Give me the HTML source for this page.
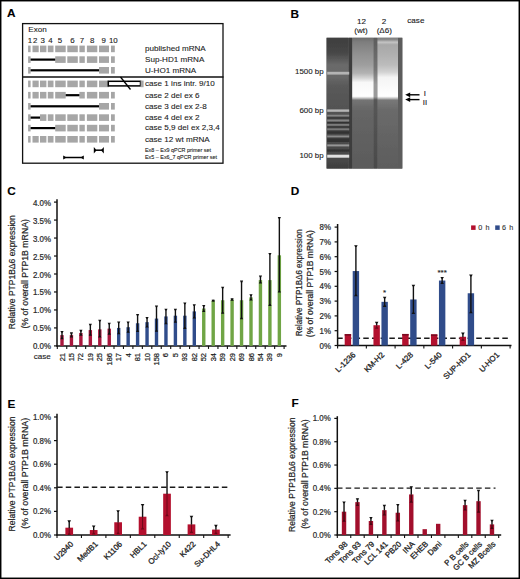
<!DOCTYPE html>
<html><head><meta charset="utf-8"><style>
html,body{margin:0;padding:0;background:#fff;}
svg{display:block;font-family:"Liberation Sans", sans-serif;}
</style></head><body>
<svg width="520" height="579" viewBox="0 0 520 579">
<rect width="520" height="579" fill="#fff"/>
<rect x="0.5" y="0.5" width="519" height="578" fill="none" stroke="#000" stroke-width="1.9"/>
<text x="7.0" y="17.2" font-size="11.8" text-anchor="start" font-weight="bold" fill="#000" stroke="#000" stroke-width="0.12" >A</text>
<text x="290.6" y="17.6" font-size="11.8" text-anchor="start" font-weight="bold" fill="#000" stroke="#000" stroke-width="0.12" >B</text>
<text x="7.2" y="195.2" font-size="11.8" text-anchor="start" font-weight="bold" fill="#000" stroke="#000" stroke-width="0.12" >C</text>
<text x="290.8" y="195.4" font-size="11.8" text-anchor="start" font-weight="bold" fill="#000" stroke="#000" stroke-width="0.12" >D</text>
<text x="7.4" y="407.5" font-size="11.8" text-anchor="start" font-weight="bold" fill="#000" stroke="#000" stroke-width="0.12" >E</text>
<text x="291.6" y="407.4" font-size="11.8" text-anchor="start" font-weight="bold" fill="#000" stroke="#000" stroke-width="0.12" >F</text>
<rect x="22.6" y="23.6" width="200.4" height="139.6" fill="none" stroke="#111" stroke-width="1.3"/>
<line x1="22.00" y1="77.00" x2="223.50" y2="77.00" stroke="#111" stroke-width="1.3" />
<text x="28.3" y="32.0" font-size="8.1" text-anchor="start" font-weight="normal" fill="#222" stroke="#222" stroke-width="0.1" >Exon</text>
<text x="29.9" y="42.5" font-size="7.9" text-anchor="middle" font-weight="normal" fill="#222" stroke="#222" stroke-width="0.12" >1</text>
<text x="35.1" y="42.5" font-size="7.9" text-anchor="middle" font-weight="normal" fill="#222" stroke="#222" stroke-width="0.12" >2</text>
<text x="42.8" y="42.5" font-size="7.9" text-anchor="middle" font-weight="normal" fill="#222" stroke="#222" stroke-width="0.12" >3</text>
<text x="50.4" y="42.5" font-size="7.9" text-anchor="middle" font-weight="normal" fill="#222" stroke="#222" stroke-width="0.12" >4</text>
<text x="60.0" y="42.5" font-size="7.9" text-anchor="middle" font-weight="normal" fill="#222" stroke="#222" stroke-width="0.12" >5</text>
<text x="72.5" y="42.5" font-size="7.9" text-anchor="middle" font-weight="normal" fill="#222" stroke="#222" stroke-width="0.12" >6</text>
<text x="82.0" y="42.5" font-size="7.9" text-anchor="middle" font-weight="normal" fill="#222" stroke="#222" stroke-width="0.12" >7</text>
<text x="92.1" y="42.5" font-size="7.9" text-anchor="middle" font-weight="normal" fill="#222" stroke="#222" stroke-width="0.12" >8</text>
<text x="103.7" y="42.5" font-size="7.9" text-anchor="middle" font-weight="normal" fill="#222" stroke="#222" stroke-width="0.12" >9</text>
<text x="113.3" y="42.5" font-size="7.9" text-anchor="middle" font-weight="normal" fill="#222" stroke="#222" stroke-width="0.12" >10</text>
<rect x="28.10" y="45.60" width="2.50" height="6.60" fill="#a6a6a6" />
<rect x="32.50" y="45.60" width="6.20" height="6.60" fill="#a6a6a6" />
<rect x="40.00" y="45.60" width="6.40" height="6.60" fill="#a6a6a6" />
<rect x="47.80" y="45.60" width="5.70" height="6.60" fill="#a6a6a6" />
<rect x="55.20" y="45.60" width="10.50" height="6.60" fill="#a6a6a6" />
<rect x="67.30" y="45.60" width="10.50" height="6.60" fill="#a6a6a6" />
<rect x="79.40" y="45.60" width="5.40" height="6.60" fill="#a6a6a6" />
<rect x="86.90" y="45.60" width="10.40" height="6.60" fill="#a6a6a6" />
<rect x="99.00" y="45.60" width="10.00" height="6.60" fill="#a6a6a6" />
<rect x="111.00" y="45.60" width="3.80" height="6.60" fill="#a6a6a6" />
<rect x="28.10" y="56.30" width="2.50" height="6.60" fill="#a6a6a6" />
<rect x="55.20" y="56.30" width="10.50" height="6.60" fill="#a6a6a6" />
<rect x="67.30" y="56.30" width="10.50" height="6.60" fill="#a6a6a6" />
<rect x="79.40" y="56.30" width="5.40" height="6.60" fill="#a6a6a6" />
<rect x="86.90" y="56.30" width="10.40" height="6.60" fill="#a6a6a6" />
<rect x="99.00" y="56.30" width="10.00" height="6.60" fill="#a6a6a6" />
<rect x="111.00" y="56.30" width="3.80" height="6.60" fill="#a6a6a6" />
<rect x="30.60" y="58.50" width="24.60" height="2.20" fill="#000" />
<rect x="28.10" y="67.00" width="2.50" height="6.60" fill="#a6a6a6" />
<rect x="99.00" y="67.00" width="10.00" height="6.60" fill="#a6a6a6" />
<rect x="111.00" y="67.00" width="3.80" height="6.60" fill="#a6a6a6" />
<rect x="30.60" y="69.20" width="68.40" height="2.20" fill="#000" />
<rect x="28.10" y="80.60" width="2.50" height="6.60" fill="#a6a6a6" />
<rect x="32.50" y="80.60" width="6.20" height="6.60" fill="#a6a6a6" />
<rect x="40.00" y="80.60" width="6.40" height="6.60" fill="#a6a6a6" />
<rect x="47.80" y="80.60" width="5.70" height="6.60" fill="#a6a6a6" />
<rect x="55.20" y="80.60" width="10.50" height="6.60" fill="#a6a6a6" />
<rect x="67.30" y="80.60" width="10.50" height="6.60" fill="#a6a6a6" />
<rect x="79.40" y="80.60" width="5.40" height="6.60" fill="#a6a6a6" />
<rect x="86.90" y="80.60" width="10.40" height="6.60" fill="#a6a6a6" />
<rect x="99.00" y="80.60" width="10.00" height="6.60" fill="#a6a6a6" />
<rect x="108.30" y="81.30" width="32.20" height="4.60" fill="#fff" stroke="#000" stroke-width="1.5"/>
<rect x="140.60" y="80.60" width="3.00" height="6.60" fill="#a6a6a6" />
<line x1="120.50" y1="77.00" x2="130.50" y2="89.50" stroke="#000" stroke-width="1.3" />
<rect x="28.10" y="91.90" width="2.50" height="6.60" fill="#a6a6a6" />
<rect x="32.50" y="91.90" width="6.20" height="6.60" fill="#a6a6a6" />
<rect x="40.00" y="91.90" width="6.40" height="6.60" fill="#a6a6a6" />
<rect x="47.80" y="91.90" width="5.70" height="6.60" fill="#a6a6a6" />
<rect x="55.20" y="91.90" width="10.50" height="6.60" fill="#a6a6a6" />
<rect x="79.40" y="91.90" width="5.40" height="6.60" fill="#a6a6a6" />
<rect x="86.90" y="91.90" width="10.40" height="6.60" fill="#a6a6a6" />
<rect x="99.00" y="91.90" width="10.00" height="6.60" fill="#a6a6a6" />
<rect x="111.00" y="91.90" width="3.80" height="6.60" fill="#a6a6a6" />
<rect x="65.70" y="94.10" width="13.70" height="2.20" fill="#000" />
<rect x="28.10" y="103.00" width="2.50" height="6.60" fill="#a6a6a6" />
<rect x="99.00" y="103.00" width="10.00" height="6.60" fill="#a6a6a6" />
<rect x="111.00" y="103.00" width="3.80" height="6.60" fill="#a6a6a6" />
<rect x="30.60" y="105.20" width="68.40" height="2.20" fill="#000" />
<rect x="28.10" y="114.30" width="2.50" height="6.60" fill="#a6a6a6" />
<rect x="40.00" y="114.30" width="6.40" height="6.60" fill="#a6a6a6" />
<rect x="47.80" y="114.30" width="5.70" height="6.60" fill="#a6a6a6" />
<rect x="55.20" y="114.30" width="10.50" height="6.60" fill="#a6a6a6" />
<rect x="67.30" y="114.30" width="10.50" height="6.60" fill="#a6a6a6" />
<rect x="79.40" y="114.30" width="5.40" height="6.60" fill="#a6a6a6" />
<rect x="86.90" y="114.30" width="10.40" height="6.60" fill="#a6a6a6" />
<rect x="99.00" y="114.30" width="10.00" height="6.60" fill="#a6a6a6" />
<rect x="111.00" y="114.30" width="3.80" height="6.60" fill="#a6a6a6" />
<rect x="30.60" y="116.50" width="9.40" height="2.20" fill="#000" />
<rect x="28.10" y="124.80" width="2.50" height="6.60" fill="#a6a6a6" />
<rect x="55.20" y="124.80" width="10.50" height="6.60" fill="#a6a6a6" />
<rect x="67.30" y="124.80" width="10.50" height="6.60" fill="#a6a6a6" />
<rect x="79.40" y="124.80" width="5.40" height="6.60" fill="#a6a6a6" />
<rect x="86.90" y="124.80" width="10.40" height="6.60" fill="#a6a6a6" />
<rect x="99.00" y="124.80" width="10.00" height="6.60" fill="#a6a6a6" />
<rect x="111.00" y="124.80" width="3.80" height="6.60" fill="#a6a6a6" />
<rect x="30.60" y="127.00" width="24.60" height="2.20" fill="#000" />
<rect x="28.10" y="136.00" width="2.50" height="6.60" fill="#a6a6a6" />
<rect x="32.50" y="136.00" width="6.20" height="6.60" fill="#a6a6a6" />
<rect x="40.00" y="136.00" width="6.40" height="6.60" fill="#a6a6a6" />
<rect x="47.80" y="136.00" width="5.70" height="6.60" fill="#a6a6a6" />
<rect x="55.20" y="136.00" width="10.50" height="6.60" fill="#a6a6a6" />
<rect x="67.30" y="136.00" width="10.50" height="6.60" fill="#a6a6a6" />
<rect x="79.40" y="136.00" width="5.40" height="6.60" fill="#a6a6a6" />
<rect x="86.90" y="136.00" width="10.40" height="6.60" fill="#a6a6a6" />
<rect x="99.00" y="136.00" width="10.00" height="6.60" fill="#a6a6a6" />
<rect x="111.00" y="136.00" width="3.80" height="6.60" fill="#a6a6a6" />
<text x="145.0" y="51.1" font-size="8.1" text-anchor="start" font-weight="normal" fill="#222" stroke="#222" stroke-width="0.1" >published mRNA</text>
<text x="145.0" y="61.8" font-size="8.1" text-anchor="start" font-weight="normal" fill="#222" stroke="#222" stroke-width="0.1" >Sup-HD1 mRNA</text>
<text x="145.0" y="72.5" font-size="8.1" text-anchor="start" font-weight="normal" fill="#222" stroke="#222" stroke-width="0.1" >U-HO1 mRNA</text>
<text x="145.0" y="86.19999999999999" font-size="8.1" text-anchor="start" font-weight="normal" fill="#222" stroke="#222" stroke-width="0.1" >case 1 ins intr. 9/10</text>
<text x="145.0" y="97.5" font-size="8.1" text-anchor="start" font-weight="normal" fill="#222" stroke="#222" stroke-width="0.1" >case 2 del ex 6</text>
<text x="145.0" y="108.6" font-size="8.1" text-anchor="start" font-weight="normal" fill="#222" stroke="#222" stroke-width="0.1" >case 3 del ex 2-8</text>
<text x="145.0" y="119.89999999999999" font-size="8.1" text-anchor="start" font-weight="normal" fill="#222" stroke="#222" stroke-width="0.1" >case 4 del ex 2</text>
<text x="145.0" y="130.4" font-size="8.1" text-anchor="start" font-weight="normal" fill="#222" stroke="#222" stroke-width="0.1" >case 5,9 del ex 2,3,4</text>
<text x="145.0" y="141.6" font-size="8.1" text-anchor="start" font-weight="normal" fill="#222" stroke="#222" stroke-width="0.1" >case 12 wt mRNA</text>
<text x="145.0" y="152.3" font-size="5.4" text-anchor="start" font-weight="normal" fill="#222" stroke="#222" stroke-width="0.1" >Ex8 – Ex9 qPCR primer set</text>
<text x="145.0" y="158.7" font-size="5.4" text-anchor="start" font-weight="normal" fill="#222" stroke="#222" stroke-width="0.1" >Ex5 – Ex6_7 qPCR primer set</text>
<line x1="94.80" y1="150.20" x2="102.80" y2="150.20" stroke="#000" stroke-width="1.5" />
<path d="M93.80,146.90 L96.00,149.40 L96.00,151.00 L93.80,153.50 Z" fill="#000"/>
<path d="M103.80,146.90 L101.60,149.40 L101.60,151.00 L103.80,153.50 Z" fill="#000"/>
<line x1="64.20" y1="157.50" x2="82.80" y2="157.50" stroke="#000" stroke-width="1.5" />
<path d="M63.20,155.40 L65.40,156.70 L65.40,158.30 L63.20,159.60 Z" fill="#000"/>
<path d="M83.80,155.40 L81.60,156.70 L81.60,158.30 L83.80,159.60 Z" fill="#000"/>
<defs>
<linearGradient id="ladder" x1="0" y1="0" x2="0" y2="1"><stop offset="0.0000" stop-color="#3e3e3e"/><stop offset="0.1239" stop-color="#464646"/><stop offset="0.1697" stop-color="#585858"/><stop offset="0.2156" stop-color="#6a6a6a"/><stop offset="0.3073" stop-color="#686868"/><stop offset="0.3685" stop-color="#5a5a5a"/><stop offset="0.5061" stop-color="#545454"/><stop offset="0.9343" stop-color="#464646"/><stop offset="1.0000" stop-color="#3a3a3a"/></linearGradient>
<linearGradient id="lane1" x1="0" y1="0" x2="0" y2="1"><stop offset="0.0000" stop-color="#666666"/><stop offset="0.0474" stop-color="#7e7e7e"/><stop offset="0.1315" stop-color="#909090"/><stop offset="0.2156" stop-color="#9e9e9e"/><stop offset="0.2768" stop-color="#b2b2b2"/><stop offset="0.3150" stop-color="#d6d6d6"/><stop offset="0.3456" stop-color="#f8f8f8"/><stop offset="0.4488" stop-color="#ffffff"/><stop offset="0.4618" stop-color="#c8c8c8"/><stop offset="0.4771" stop-color="#747474"/><stop offset="0.5520" stop-color="#666666"/><stop offset="1.0000" stop-color="#5a5a5a"/></linearGradient>
<linearGradient id="lane2" x1="0" y1="0" x2="0" y2="1"><stop offset="0.0000" stop-color="#727272"/><stop offset="0.0283" stop-color="#8a8a8a"/><stop offset="0.0474" stop-color="#c4c4c4"/><stop offset="0.0665" stop-color="#a8a8a8"/><stop offset="0.1391" stop-color="#b0b0b0"/><stop offset="0.2156" stop-color="#bcbcbc"/><stop offset="0.2691" stop-color="#d2d2d2"/><stop offset="0.3073" stop-color="#f4f4f4"/><stop offset="0.4488" stop-color="#ffffff"/><stop offset="0.4618" stop-color="#cacaca"/><stop offset="0.4771" stop-color="#787878"/><stop offset="0.5520" stop-color="#6a6a6a"/><stop offset="1.0000" stop-color="#5c5c5c"/></linearGradient>
<linearGradient id="gap2" x1="0" y1="0" x2="0" y2="1"><stop offset="0.0000" stop-color="#5a5a5a"/><stop offset="0.2462" stop-color="#747474"/><stop offset="0.3609" stop-color="#9a9a9a"/><stop offset="0.4526" stop-color="#9a9a9a"/><stop offset="0.4755" stop-color="#565656"/><stop offset="1.0000" stop-color="#4a4a4a"/></linearGradient>
<filter id="blur1" x="-10%" y="-10%" width="120%" height="120%"><feGaussianBlur stdDeviation="0.7"/></filter>
<clipPath id="gelclip"><rect x="326.6" y="37.8" width="75.69999999999999" height="130.8"/></clipPath>
</defs>
<rect x="326.60" y="37.80" width="75.70" height="130.80" fill="#565656" />
<g clip-path="url(#gelclip)"><g filter="url(#blur1)">
<rect x="324.60" y="35.80" width="24.00" height="134.80" fill="url(#ladder)" />
<rect x="349.00" y="35.80" width="3.20" height="134.80" fill="#3c3c3c" />
<rect x="352.20" y="35.80" width="21.60" height="134.80" fill="url(#lane1)" />
<rect x="373.80" y="35.80" width="3.60" height="134.80" fill="url(#gap2)" />
<rect x="377.40" y="35.80" width="20.60" height="134.80" fill="url(#lane2)" />
<rect x="398.00" y="35.80" width="6.30" height="134.80" fill="#5c5c5c" />
<rect x="327.20" y="71.80" width="22.00" height="2.80" fill="#b4b4b4" />
<rect x="327.20" y="109.40" width="22.00" height="2.40" fill="#b6b6b6" />
<rect x="327.20" y="114.70" width="22.00" height="1.80" fill="#868686" />
<rect x="327.20" y="119.60" width="22.00" height="1.80" fill="#848484" />
<rect x="327.20" y="124.10" width="22.00" height="1.60" fill="#808080" />
<rect x="327.20" y="128.40" width="22.00" height="1.60" fill="#7a7a7a" />
<rect x="327.20" y="135.50" width="22.00" height="1.80" fill="#8a8a8a" />
<rect x="327.20" y="144.40" width="22.00" height="2.00" fill="#969696" />
<rect x="327.20" y="154.70" width="22.00" height="3.00" fill="#e0e0e0" />
<rect x="327.20" y="117.40" width="22.00" height="1.20" fill="#303030" />
<rect x="327.20" y="122.10" width="22.00" height="1.20" fill="#303030" />
<rect x="327.20" y="126.40" width="22.00" height="1.20" fill="#303030" />
<rect x="327.20" y="131.25" width="22.00" height="2.50" fill="#303030" />
<rect x="327.20" y="138.40" width="22.00" height="3.60" fill="#303030" />
<rect x="327.20" y="149.40" width="22.00" height="2.20" fill="#303030" />
</g></g>
<text x="323.6" y="74.4" font-size="7.9" text-anchor="end" font-weight="normal" fill="#222" stroke="#222" stroke-width="0.12" >1500 bp</text>
<text x="323.6" y="113.2" font-size="7.9" text-anchor="end" font-weight="normal" fill="#222" stroke="#222" stroke-width="0.12" >600 bp</text>
<text x="323.6" y="158.4" font-size="7.9" text-anchor="end" font-weight="normal" fill="#222" stroke="#222" stroke-width="0.12" >100 bp</text>
<text x="361.5" y="24.0" font-size="8.1" text-anchor="middle" font-weight="normal" fill="#222" stroke="#222" stroke-width="0.12" >12</text>
<text x="361.0" y="33.2" font-size="8.1" text-anchor="middle" font-weight="normal" fill="#222" stroke="#222" stroke-width="0.12" >(wt)</text>
<text x="384.0" y="24.0" font-size="8.1" text-anchor="middle" font-weight="normal" fill="#222" stroke="#222" stroke-width="0.12" >2</text>
<text x="384.3" y="33.2" font-size="8.1" text-anchor="middle" font-weight="normal" fill="#222" stroke="#222" stroke-width="0.12" >(Δ6)</text>
<text x="407.3" y="23.4" font-size="8.1" text-anchor="start" font-weight="normal" fill="#222" stroke="#222" stroke-width="0.12" >case</text>
<line x1="408.50" y1="94.80" x2="419.50" y2="94.80" stroke="#000" stroke-width="1.4" />
<path d="M405.2,94.8 L410.2,92.39999999999999 L410.2,97.2 Z" fill="#000"/>
<line x1="408.50" y1="99.60" x2="419.50" y2="99.60" stroke="#000" stroke-width="1.4" />
<path d="M405.2,99.6 L410.2,97.19999999999999 L410.2,102.0 Z" fill="#000"/>
<text x="424.9" y="95.6" font-size="7.8" text-anchor="middle" font-weight="normal" fill="#222" stroke="#222" stroke-width="0.12" >I</text>
<text x="425.0" y="104.8" font-size="7.8" text-anchor="middle" font-weight="normal" fill="#222" stroke="#222" stroke-width="0.12" >II</text>
<text transform="translate(15.4,329.2) rotate(-90)" font-size="8.8" text-anchor="start" fill="#222" stroke="#222" stroke-width="0.2" textLength="114" lengthAdjust="spacingAndGlyphs">Relative PTP1BΔ6 expression</text>
<text transform="translate(27.6,328.6) rotate(-90)" font-size="8.8" text-anchor="start" fill="#222" stroke="#222" stroke-width="0.2" textLength="109.5" lengthAdjust="spacingAndGlyphs">(% of overall PTP1B mRNA)</text>
<line x1="57.00" y1="199.20" x2="57.00" y2="346.50" stroke="#111" stroke-width="1.5" />
<line x1="54.00" y1="345.90" x2="57.00" y2="345.90" stroke="#111" stroke-width="1.2" />
<text transform="translate(50.9,349.40) scale(0.94,1)" font-size="8.4" text-anchor="end" fill="#2a2a2a" stroke="#2a2a2a" stroke-width="0.22">0.0%</text>
<line x1="54.00" y1="327.92" x2="57.00" y2="327.92" stroke="#111" stroke-width="1.2" />
<text transform="translate(50.9,331.42) scale(0.94,1)" font-size="8.4" text-anchor="end" fill="#2a2a2a" stroke="#2a2a2a" stroke-width="0.22">0.5%</text>
<line x1="54.00" y1="309.95" x2="57.00" y2="309.95" stroke="#111" stroke-width="1.2" />
<text transform="translate(50.9,313.45) scale(0.94,1)" font-size="8.4" text-anchor="end" fill="#2a2a2a" stroke="#2a2a2a" stroke-width="0.22">1.0%</text>
<line x1="54.00" y1="291.97" x2="57.00" y2="291.97" stroke="#111" stroke-width="1.2" />
<text transform="translate(50.9,295.47) scale(0.94,1)" font-size="8.4" text-anchor="end" fill="#2a2a2a" stroke="#2a2a2a" stroke-width="0.22">1.5%</text>
<line x1="54.00" y1="274.00" x2="57.00" y2="274.00" stroke="#111" stroke-width="1.2" />
<text transform="translate(50.9,277.50) scale(0.94,1)" font-size="8.4" text-anchor="end" fill="#2a2a2a" stroke="#2a2a2a" stroke-width="0.22">2.0%</text>
<line x1="54.00" y1="256.02" x2="57.00" y2="256.02" stroke="#111" stroke-width="1.2" />
<text transform="translate(50.9,259.52) scale(0.94,1)" font-size="8.4" text-anchor="end" fill="#2a2a2a" stroke="#2a2a2a" stroke-width="0.22">2.5%</text>
<line x1="54.00" y1="238.05" x2="57.00" y2="238.05" stroke="#111" stroke-width="1.2" />
<text transform="translate(50.9,241.55) scale(0.94,1)" font-size="8.4" text-anchor="end" fill="#2a2a2a" stroke="#2a2a2a" stroke-width="0.22">3.0%</text>
<line x1="54.00" y1="220.07" x2="57.00" y2="220.07" stroke="#111" stroke-width="1.2" />
<text transform="translate(50.9,223.57) scale(0.94,1)" font-size="8.4" text-anchor="end" fill="#2a2a2a" stroke="#2a2a2a" stroke-width="0.22">3.5%</text>
<line x1="54.00" y1="202.10" x2="57.00" y2="202.10" stroke="#111" stroke-width="1.2" />
<text transform="translate(50.9,205.60) scale(0.94,1)" font-size="8.4" text-anchor="end" fill="#2a2a2a" stroke="#2a2a2a" stroke-width="0.22">4.0%</text>
<line x1="56.40" y1="345.90" x2="286.50" y2="345.90" stroke="#111" stroke-width="1.5" />
<line x1="57.30" y1="345.90" x2="57.30" y2="348.90" stroke="#111" stroke-width="1.1" />
<line x1="66.75" y1="345.90" x2="66.75" y2="348.90" stroke="#111" stroke-width="1.1" />
<line x1="76.20" y1="345.90" x2="76.20" y2="348.90" stroke="#111" stroke-width="1.1" />
<line x1="85.65" y1="345.90" x2="85.65" y2="348.90" stroke="#111" stroke-width="1.1" />
<line x1="95.10" y1="345.90" x2="95.10" y2="348.90" stroke="#111" stroke-width="1.1" />
<line x1="104.55" y1="345.90" x2="104.55" y2="348.90" stroke="#111" stroke-width="1.1" />
<line x1="114.00" y1="345.90" x2="114.00" y2="348.90" stroke="#111" stroke-width="1.1" />
<line x1="123.45" y1="345.90" x2="123.45" y2="348.90" stroke="#111" stroke-width="1.1" />
<line x1="132.90" y1="345.90" x2="132.90" y2="348.90" stroke="#111" stroke-width="1.1" />
<line x1="142.35" y1="345.90" x2="142.35" y2="348.90" stroke="#111" stroke-width="1.1" />
<line x1="151.80" y1="345.90" x2="151.80" y2="348.90" stroke="#111" stroke-width="1.1" />
<line x1="161.25" y1="345.90" x2="161.25" y2="348.90" stroke="#111" stroke-width="1.1" />
<line x1="170.70" y1="345.90" x2="170.70" y2="348.90" stroke="#111" stroke-width="1.1" />
<line x1="180.15" y1="345.90" x2="180.15" y2="348.90" stroke="#111" stroke-width="1.1" />
<line x1="189.60" y1="345.90" x2="189.60" y2="348.90" stroke="#111" stroke-width="1.1" />
<line x1="199.05" y1="345.90" x2="199.05" y2="348.90" stroke="#111" stroke-width="1.1" />
<line x1="208.50" y1="345.90" x2="208.50" y2="348.90" stroke="#111" stroke-width="1.1" />
<line x1="217.95" y1="345.90" x2="217.95" y2="348.90" stroke="#111" stroke-width="1.1" />
<line x1="227.40" y1="345.90" x2="227.40" y2="348.90" stroke="#111" stroke-width="1.1" />
<line x1="236.85" y1="345.90" x2="236.85" y2="348.90" stroke="#111" stroke-width="1.1" />
<line x1="246.30" y1="345.90" x2="246.30" y2="348.90" stroke="#111" stroke-width="1.1" />
<line x1="255.75" y1="345.90" x2="255.75" y2="348.90" stroke="#111" stroke-width="1.1" />
<line x1="265.20" y1="345.90" x2="265.20" y2="348.90" stroke="#111" stroke-width="1.1" />
<line x1="274.65" y1="345.90" x2="274.65" y2="348.90" stroke="#111" stroke-width="1.1" />
<line x1="284.10" y1="345.90" x2="284.10" y2="348.90" stroke="#111" stroke-width="1.1" />
<rect x="60.30" y="335.11" width="3.40" height="10.79" fill="#a8163c" />
<line x1="62.00" y1="331.52" x2="62.00" y2="338.71" stroke="#111" stroke-width="1.4" />
<path d="M60.40,330.92 L63.60,330.92 L62.70,332.72 L61.30,332.72 Z" fill="#111"/>
<path d="M60.40,339.31 L63.60,339.31 L62.70,337.51 L61.30,337.51 Z" fill="#111"/>
<text transform="translate(64.5,353.0) rotate(-90)" font-size="7.5" text-anchor="end" fill="#222" stroke="#222" stroke-width="0.2" >21</text>
<rect x="69.75" y="335.11" width="3.40" height="10.79" fill="#a8163c" />
<line x1="71.45" y1="332.96" x2="71.45" y2="336.91" stroke="#111" stroke-width="1.4" />
<path d="M69.85,332.36 L73.05,332.36 L72.15,334.16 L70.75,334.16 Z" fill="#111"/>
<path d="M69.85,337.51 L73.05,337.51 L72.15,335.71 L70.75,335.71 Z" fill="#111"/>
<text transform="translate(73.95,353.0) rotate(-90)" font-size="7.5" text-anchor="end" fill="#222" stroke="#222" stroke-width="0.2" >15</text>
<rect x="79.20" y="332.96" width="3.40" height="12.94" fill="#a8163c" />
<line x1="80.90" y1="330.44" x2="80.90" y2="335.11" stroke="#111" stroke-width="1.4" />
<path d="M79.30,329.84 L82.50,329.84 L81.60,331.64 L80.20,331.64 Z" fill="#111"/>
<path d="M79.30,335.71 L82.50,335.71 L81.60,333.91 L80.20,333.91 Z" fill="#111"/>
<text transform="translate(83.4,353.0) rotate(-90)" font-size="7.5" text-anchor="end" fill="#222" stroke="#222" stroke-width="0.2" >72</text>
<rect x="88.65" y="330.08" width="3.40" height="15.82" fill="#a8163c" />
<line x1="90.35" y1="324.33" x2="90.35" y2="335.11" stroke="#111" stroke-width="1.4" />
<path d="M88.75,323.73 L91.95,323.73 L91.05,325.53 L89.65,325.53 Z" fill="#111"/>
<path d="M88.75,335.71 L91.95,335.71 L91.05,333.91 L89.65,333.91 Z" fill="#111"/>
<text transform="translate(92.85,353.0) rotate(-90)" font-size="7.5" text-anchor="end" fill="#222" stroke="#222" stroke-width="0.2" >19</text>
<rect x="98.10" y="329.36" width="3.40" height="16.54" fill="#a8163c" />
<line x1="99.80" y1="320.38" x2="99.80" y2="336.91" stroke="#111" stroke-width="1.4" />
<path d="M98.20,319.78 L101.40,319.78 L100.50,321.58 L99.10,321.58 Z" fill="#111"/>
<path d="M98.20,337.51 L101.40,337.51 L100.50,335.71 L99.10,335.71 Z" fill="#111"/>
<text transform="translate(102.3,353.0) rotate(-90)" font-size="7.5" text-anchor="end" fill="#222" stroke="#222" stroke-width="0.2" >25</text>
<rect x="107.55" y="328.64" width="3.40" height="17.26" fill="#a8163c" />
<line x1="109.25" y1="323.25" x2="109.25" y2="334.04" stroke="#111" stroke-width="1.4" />
<path d="M107.65,322.65 L110.85,322.65 L109.95,324.45 L108.55,324.45 Z" fill="#111"/>
<path d="M107.65,334.64 L110.85,334.64 L109.95,332.84 L108.55,332.84 Z" fill="#111"/>
<text transform="translate(111.75,353.0) rotate(-90)" font-size="7.5" text-anchor="end" fill="#222" stroke="#222" stroke-width="0.2" >186</text>
<rect x="117.00" y="327.92" width="3.40" height="17.98" fill="#304c8a" />
<line x1="118.70" y1="322.17" x2="118.70" y2="333.68" stroke="#111" stroke-width="1.4" />
<path d="M117.10,321.57 L120.30,321.57 L119.40,323.37 L118.00,323.37 Z" fill="#111"/>
<path d="M117.10,334.28 L120.30,334.28 L119.40,332.48 L118.00,332.48 Z" fill="#111"/>
<text transform="translate(121.19999999999999,353.0) rotate(-90)" font-size="7.5" text-anchor="end" fill="#222" stroke="#222" stroke-width="0.2" >17</text>
<rect x="126.45" y="327.21" width="3.40" height="18.69" fill="#304c8a" />
<line x1="128.15" y1="322.17" x2="128.15" y2="332.24" stroke="#111" stroke-width="1.4" />
<path d="M126.55,321.57 L129.75,321.57 L128.85,323.37 L127.45,323.37 Z" fill="#111"/>
<path d="M126.55,332.84 L129.75,332.84 L128.85,331.04 L127.45,331.04 Z" fill="#111"/>
<text transform="translate(130.64999999999998,353.0) rotate(-90)" font-size="7.5" text-anchor="end" fill="#222" stroke="#222" stroke-width="0.2" >4</text>
<rect x="135.90" y="323.25" width="3.40" height="22.65" fill="#304c8a" />
<line x1="137.60" y1="314.62" x2="137.60" y2="331.52" stroke="#111" stroke-width="1.4" />
<path d="M136.00,314.02 L139.20,314.02 L138.30,315.82 L136.90,315.82 Z" fill="#111"/>
<path d="M136.00,332.12 L139.20,332.12 L138.30,330.32 L136.90,330.32 Z" fill="#111"/>
<text transform="translate(140.1,353.0) rotate(-90)" font-size="7.5" text-anchor="end" fill="#222" stroke="#222" stroke-width="0.2" >81</text>
<rect x="145.35" y="322.17" width="3.40" height="23.73" fill="#304c8a" />
<line x1="147.05" y1="317.50" x2="147.05" y2="326.85" stroke="#111" stroke-width="1.4" />
<path d="M145.45,316.90 L148.65,316.90 L147.75,318.70 L146.35,318.70 Z" fill="#111"/>
<path d="M145.45,327.45 L148.65,327.45 L147.75,325.65 L146.35,325.65 Z" fill="#111"/>
<text transform="translate(149.55,353.0) rotate(-90)" font-size="7.5" text-anchor="end" fill="#222" stroke="#222" stroke-width="0.2" >10</text>
<rect x="154.80" y="318.58" width="3.40" height="27.32" fill="#304c8a" />
<line x1="156.50" y1="306.00" x2="156.50" y2="331.16" stroke="#111" stroke-width="1.4" />
<path d="M154.90,305.40 L158.10,305.40 L157.20,307.20 L155.80,307.20 Z" fill="#111"/>
<path d="M154.90,331.76 L158.10,331.76 L157.20,329.96 L155.80,329.96 Z" fill="#111"/>
<text transform="translate(159.0,353.0) rotate(-90)" font-size="7.5" text-anchor="end" fill="#222" stroke="#222" stroke-width="0.2" >158</text>
<rect x="164.25" y="316.42" width="3.40" height="29.48" fill="#304c8a" />
<line x1="165.95" y1="309.23" x2="165.95" y2="323.61" stroke="#111" stroke-width="1.4" />
<path d="M164.35,308.63 L167.55,308.63 L166.65,310.43 L165.25,310.43 Z" fill="#111"/>
<path d="M164.35,324.21 L167.55,324.21 L166.65,322.41 L165.25,322.41 Z" fill="#111"/>
<text transform="translate(168.45,353.0) rotate(-90)" font-size="7.5" text-anchor="end" fill="#222" stroke="#222" stroke-width="0.2" >6</text>
<rect x="173.70" y="315.70" width="3.40" height="30.20" fill="#304c8a" />
<line x1="175.40" y1="309.23" x2="175.40" y2="322.17" stroke="#111" stroke-width="1.4" />
<path d="M173.80,308.63 L177.00,308.63 L176.10,310.43 L174.70,310.43 Z" fill="#111"/>
<path d="M173.80,322.77 L177.00,322.77 L176.10,320.97 L174.70,320.97 Z" fill="#111"/>
<text transform="translate(177.89999999999998,353.0) rotate(-90)" font-size="7.5" text-anchor="end" fill="#222" stroke="#222" stroke-width="0.2" >5</text>
<rect x="183.15" y="315.70" width="3.40" height="30.20" fill="#304c8a" />
<line x1="184.85" y1="303.12" x2="184.85" y2="328.28" stroke="#111" stroke-width="1.4" />
<path d="M183.25,302.52 L186.45,302.52 L185.55,304.32 L184.15,304.32 Z" fill="#111"/>
<path d="M183.25,328.88 L186.45,328.88 L185.55,327.08 L184.15,327.08 Z" fill="#111"/>
<text transform="translate(187.35,353.0) rotate(-90)" font-size="7.5" text-anchor="end" fill="#222" stroke="#222" stroke-width="0.2" >93</text>
<rect x="192.60" y="311.39" width="3.40" height="34.51" fill="#304c8a" />
<line x1="194.30" y1="304.92" x2="194.30" y2="317.86" stroke="#111" stroke-width="1.4" />
<path d="M192.70,304.32 L195.90,304.32 L195.00,306.12 L193.60,306.12 Z" fill="#111"/>
<path d="M192.70,318.46 L195.90,318.46 L195.00,316.66 L193.60,316.66 Z" fill="#111"/>
<text transform="translate(196.79999999999998,353.0) rotate(-90)" font-size="7.5" text-anchor="end" fill="#222" stroke="#222" stroke-width="0.2" >82</text>
<rect x="202.05" y="308.51" width="3.40" height="37.39" fill="#70a545" />
<line x1="203.75" y1="305.64" x2="203.75" y2="311.39" stroke="#111" stroke-width="1.4" />
<path d="M202.15,305.04 L205.35,305.04 L204.45,306.84 L203.05,306.84 Z" fill="#111"/>
<path d="M202.15,311.99 L205.35,311.99 L204.45,310.19 L203.05,310.19 Z" fill="#111"/>
<text transform="translate(206.25,353.0) rotate(-90)" font-size="7.5" text-anchor="end" fill="#222" stroke="#222" stroke-width="0.2" >52</text>
<rect x="211.50" y="300.60" width="3.40" height="45.30" fill="#70a545" />
<line x1="213.20" y1="300.24" x2="213.20" y2="300.96" stroke="#111" stroke-width="1.4" />
<path d="M211.60,299.64 L214.80,299.64 L213.90,301.44 L212.50,301.44 Z" fill="#111"/>
<path d="M211.60,301.56 L214.80,301.56 L213.90,299.76 L212.50,299.76 Z" fill="#111"/>
<text transform="translate(215.7,353.0) rotate(-90)" font-size="7.5" text-anchor="end" fill="#222" stroke="#222" stroke-width="0.2" >34</text>
<rect x="220.95" y="300.24" width="3.40" height="45.66" fill="#70a545" />
<line x1="222.65" y1="287.30" x2="222.65" y2="313.19" stroke="#111" stroke-width="1.4" />
<path d="M221.05,286.70 L224.25,286.70 L223.35,288.50 L221.95,288.50 Z" fill="#111"/>
<path d="M221.05,313.79 L224.25,313.79 L223.35,311.99 L221.95,311.99 Z" fill="#111"/>
<text transform="translate(225.14999999999998,353.0) rotate(-90)" font-size="7.5" text-anchor="end" fill="#222" stroke="#222" stroke-width="0.2" >59</text>
<rect x="230.40" y="299.52" width="3.40" height="46.38" fill="#70a545" />
<line x1="232.10" y1="298.81" x2="232.10" y2="300.24" stroke="#111" stroke-width="1.4" />
<path d="M230.50,298.21 L233.70,298.21 L232.80,300.01 L231.40,300.01 Z" fill="#111"/>
<path d="M230.50,300.84 L233.70,300.84 L232.80,299.04 L231.40,299.04 Z" fill="#111"/>
<text transform="translate(234.6,353.0) rotate(-90)" font-size="7.5" text-anchor="end" fill="#222" stroke="#222" stroke-width="0.2" >29</text>
<rect x="239.85" y="300.24" width="3.40" height="45.66" fill="#70a545" />
<line x1="241.55" y1="281.19" x2="241.55" y2="318.58" stroke="#111" stroke-width="1.4" />
<path d="M239.95,280.59 L243.15,280.59 L242.25,282.39 L240.85,282.39 Z" fill="#111"/>
<path d="M239.95,319.18 L243.15,319.18 L242.25,317.38 L240.85,317.38 Z" fill="#111"/>
<text transform="translate(244.04999999999998,353.0) rotate(-90)" font-size="7.5" text-anchor="end" fill="#222" stroke="#222" stroke-width="0.2" >69</text>
<rect x="249.30" y="297.37" width="3.40" height="48.53" fill="#70a545" />
<line x1="251.00" y1="294.85" x2="251.00" y2="299.88" stroke="#111" stroke-width="1.4" />
<path d="M249.40,294.25 L252.60,294.25 L251.70,296.05 L250.30,296.05 Z" fill="#111"/>
<path d="M249.40,300.48 L252.60,300.48 L251.70,298.68 L250.30,298.68 Z" fill="#111"/>
<text transform="translate(253.5,353.0) rotate(-90)" font-size="7.5" text-anchor="end" fill="#222" stroke="#222" stroke-width="0.2" >86</text>
<rect x="258.75" y="280.11" width="3.40" height="65.79" fill="#70a545" />
<line x1="260.45" y1="276.16" x2="260.45" y2="282.99" stroke="#111" stroke-width="1.4" />
<path d="M258.85,275.56 L262.05,275.56 L261.15,277.36 L259.75,277.36 Z" fill="#111"/>
<path d="M258.85,283.59 L262.05,283.59 L261.15,281.79 L259.75,281.79 Z" fill="#111"/>
<text transform="translate(262.95,353.0) rotate(-90)" font-size="7.5" text-anchor="end" fill="#222" stroke="#222" stroke-width="0.2" >54</text>
<rect x="268.20" y="280.11" width="3.40" height="65.79" fill="#70a545" />
<line x1="269.90" y1="253.51" x2="269.90" y2="305.28" stroke="#111" stroke-width="1.4" />
<path d="M268.30,252.91 L271.50,252.91 L270.60,254.71 L269.20,254.71 Z" fill="#111"/>
<path d="M268.30,305.88 L271.50,305.88 L270.60,304.08 L269.20,304.08 Z" fill="#111"/>
<text transform="translate(272.4,353.0) rotate(-90)" font-size="7.5" text-anchor="end" fill="#222" stroke="#222" stroke-width="0.2" >39</text>
<rect x="277.65" y="255.31" width="3.40" height="90.59" fill="#70a545" />
<line x1="279.35" y1="217.56" x2="279.35" y2="291.97" stroke="#111" stroke-width="1.4" />
<path d="M277.75,216.96 L280.95,216.96 L280.05,218.76 L278.65,218.76 Z" fill="#111"/>
<path d="M277.75,292.57 L280.95,292.57 L280.05,290.77 L278.65,290.77 Z" fill="#111"/>
<text transform="translate(281.85,353.0) rotate(-90)" font-size="7.5" text-anchor="end" fill="#222" stroke="#222" stroke-width="0.2" >9</text>
<text x="50.8" y="358.6" font-size="8.1" text-anchor="end" font-weight="normal" fill="#222" stroke="#222" stroke-width="0.12" >case</text>
<text transform="translate(301.5,336.3) rotate(-90)" font-size="8.4" text-anchor="start" fill="#222" stroke="#222" stroke-width="0.2" textLength="107" lengthAdjust="spacingAndGlyphs">Relative PTP1BΔ6 expression</text>
<text transform="translate(313.0,337.2) rotate(-90)" font-size="8.4" text-anchor="start" fill="#222" stroke="#222" stroke-width="0.2" textLength="107" lengthAdjust="spacingAndGlyphs">(% of overall PTP1B mRNA)</text>
<line x1="337.60" y1="224.00" x2="337.60" y2="346.10" stroke="#111" stroke-width="1.5" />
<line x1="334.60" y1="345.50" x2="337.60" y2="345.50" stroke="#111" stroke-width="1.2" />
<text transform="translate(331.0,348.50) scale(0.94,1)" font-size="8.4" text-anchor="end" fill="#2a2a2a" stroke="#2a2a2a" stroke-width="0.22">0%</text>
<line x1="334.60" y1="330.70" x2="337.60" y2="330.70" stroke="#111" stroke-width="1.2" />
<text transform="translate(331.0,333.70) scale(0.94,1)" font-size="8.4" text-anchor="end" fill="#2a2a2a" stroke="#2a2a2a" stroke-width="0.22">1%</text>
<line x1="334.60" y1="315.90" x2="337.60" y2="315.90" stroke="#111" stroke-width="1.2" />
<text transform="translate(331.0,318.90) scale(0.94,1)" font-size="8.4" text-anchor="end" fill="#2a2a2a" stroke="#2a2a2a" stroke-width="0.22">2%</text>
<line x1="334.60" y1="301.10" x2="337.60" y2="301.10" stroke="#111" stroke-width="1.2" />
<text transform="translate(331.0,304.10) scale(0.94,1)" font-size="8.4" text-anchor="end" fill="#2a2a2a" stroke="#2a2a2a" stroke-width="0.22">3%</text>
<line x1="334.60" y1="286.30" x2="337.60" y2="286.30" stroke="#111" stroke-width="1.2" />
<text transform="translate(331.0,289.30) scale(0.94,1)" font-size="8.4" text-anchor="end" fill="#2a2a2a" stroke="#2a2a2a" stroke-width="0.22">4%</text>
<line x1="334.60" y1="271.50" x2="337.60" y2="271.50" stroke="#111" stroke-width="1.2" />
<text transform="translate(331.0,274.50) scale(0.94,1)" font-size="8.4" text-anchor="end" fill="#2a2a2a" stroke="#2a2a2a" stroke-width="0.22">5%</text>
<line x1="334.60" y1="256.70" x2="337.60" y2="256.70" stroke="#111" stroke-width="1.2" />
<text transform="translate(331.0,259.70) scale(0.94,1)" font-size="8.4" text-anchor="end" fill="#2a2a2a" stroke="#2a2a2a" stroke-width="0.22">6%</text>
<line x1="334.60" y1="241.90" x2="337.60" y2="241.90" stroke="#111" stroke-width="1.2" />
<text transform="translate(331.0,244.90) scale(0.94,1)" font-size="8.4" text-anchor="end" fill="#2a2a2a" stroke="#2a2a2a" stroke-width="0.22">7%</text>
<line x1="334.60" y1="227.10" x2="337.60" y2="227.10" stroke="#111" stroke-width="1.2" />
<text transform="translate(331.0,230.10) scale(0.94,1)" font-size="8.4" text-anchor="end" fill="#2a2a2a" stroke="#2a2a2a" stroke-width="0.22">8%</text>
<line x1="337.00" y1="345.50" x2="511.50" y2="345.50" stroke="#111" stroke-width="1.5" />
<line x1="337.60" y1="345.50" x2="337.60" y2="348.50" stroke="#111" stroke-width="1.1" />
<line x1="366.35" y1="345.50" x2="366.35" y2="348.50" stroke="#111" stroke-width="1.1" />
<line x1="395.10" y1="345.50" x2="395.10" y2="348.50" stroke="#111" stroke-width="1.1" />
<line x1="423.85" y1="345.50" x2="423.85" y2="348.50" stroke="#111" stroke-width="1.1" />
<line x1="452.60" y1="345.50" x2="452.60" y2="348.50" stroke="#111" stroke-width="1.1" />
<line x1="481.35" y1="345.50" x2="481.35" y2="348.50" stroke="#111" stroke-width="1.1" />
<line x1="510.10" y1="345.50" x2="510.10" y2="348.50" stroke="#111" stroke-width="1.1" />
<line x1="337.20" y1="338.30" x2="508.20" y2="338.30" stroke="#1a1a1a" stroke-width="1.4" stroke-dasharray="5.5 3.19"/>
<rect x="344.70" y="334.10" width="6.40" height="11.40" fill="#b3102e" />
<rect x="344.70" y="334.10" width="6.40" height="1.60" fill="#7a0a20" />
<rect x="352.70" y="271.06" width="6.40" height="74.44" fill="#304c8a" />
<line x1="355.90" y1="245.75" x2="355.90" y2="295.77" stroke="#111" stroke-width="1.4" />
<path d="M354.10,245.15 L357.70,245.15 L356.60,246.95 L355.20,246.95 Z" fill="#111"/>
<path d="M354.10,296.37 L357.70,296.37 L356.60,294.57 L355.20,294.57 Z" fill="#111"/>
<text transform="translate(356.0,355.3) rotate(-45)" font-size="7.9" text-anchor="end" fill="#222" stroke="#222" stroke-width="0.28" >L-1236</text>
<rect x="373.45" y="325.22" width="6.40" height="20.28" fill="#b3102e" />
<line x1="376.65" y1="322.26" x2="376.65" y2="325.52" stroke="#111" stroke-width="1.4" />
<line x1="376.65" y1="325.52" x2="376.65" y2="328.18" stroke="#6e0818" stroke-width="1.0" />
<path d="M374.85,321.66 L378.45,321.66 L377.35,323.46 L375.95,323.46 Z" fill="#111"/>
<path d="M374.85,328.78 L378.45,328.78 L377.35,326.98 L375.95,326.98 Z" fill="#6e0818"/>
<rect x="381.45" y="301.84" width="6.40" height="43.66" fill="#304c8a" />
<line x1="384.65" y1="297.40" x2="384.65" y2="306.28" stroke="#111" stroke-width="1.4" />
<path d="M382.85,296.80 L386.45,296.80 L385.35,298.60 L383.95,298.60 Z" fill="#111"/>
<path d="M382.85,306.88 L386.45,306.88 L385.35,305.08 L383.95,305.08 Z" fill="#111"/>
<text x="384.65000000000003" y="294.79999999999995" font-size="8" text-anchor="middle" font-weight="normal" fill="#222" stroke="#222" stroke-width="0.12" >*</text>
<text transform="translate(384.75,355.3) rotate(-45)" font-size="7.9" text-anchor="end" fill="#222" stroke="#222" stroke-width="0.28" >KM-H2</text>
<rect x="402.20" y="333.96" width="6.40" height="11.54" fill="#b3102e" />
<rect x="402.20" y="333.96" width="6.40" height="1.60" fill="#7a0a20" />
<rect x="410.20" y="299.47" width="6.40" height="46.03" fill="#304c8a" />
<line x1="413.40" y1="285.41" x2="413.40" y2="313.38" stroke="#111" stroke-width="1.4" />
<path d="M411.60,284.81 L415.20,284.81 L414.10,286.61 L412.70,286.61 Z" fill="#111"/>
<path d="M411.60,313.98 L415.20,313.98 L414.10,312.18 L412.70,312.18 Z" fill="#111"/>
<text transform="translate(413.5,355.3) rotate(-45)" font-size="7.9" text-anchor="end" fill="#222" stroke="#222" stroke-width="0.28" >L-428</text>
<rect x="430.95" y="334.40" width="6.40" height="11.10" fill="#b3102e" />
<rect x="430.95" y="334.40" width="6.40" height="1.60" fill="#7a0a20" />
<rect x="438.95" y="280.53" width="6.40" height="64.97" fill="#304c8a" />
<line x1="442.15" y1="277.57" x2="442.15" y2="283.49" stroke="#111" stroke-width="1.4" />
<path d="M440.35,276.97 L443.95,276.97 L442.85,278.77 L441.45,278.77 Z" fill="#111"/>
<path d="M440.35,284.09 L443.95,284.09 L442.85,282.29 L441.45,282.29 Z" fill="#111"/>
<text x="442.15000000000003" y="274.96799999999996" font-size="8" text-anchor="middle" font-weight="normal" fill="#222" stroke="#222" stroke-width="0.12" >***</text>
<text transform="translate(442.25,355.3) rotate(-45)" font-size="7.9" text-anchor="end" fill="#222" stroke="#222" stroke-width="0.28" >L-540</text>
<rect x="459.70" y="336.77" width="6.40" height="8.73" fill="#b3102e" />
<line x1="462.90" y1="333.22" x2="462.90" y2="337.07" stroke="#111" stroke-width="1.4" />
<line x1="462.90" y1="337.07" x2="462.90" y2="340.32" stroke="#6e0818" stroke-width="1.0" />
<path d="M461.10,332.62 L464.70,332.62 L463.60,334.42 L462.20,334.42 Z" fill="#111"/>
<path d="M461.10,340.92 L464.70,340.92 L463.60,339.12 L462.20,339.12 Z" fill="#6e0818"/>
<rect x="467.70" y="293.26" width="6.40" height="52.24" fill="#304c8a" />
<line x1="470.90" y1="275.20" x2="470.90" y2="312.64" stroke="#111" stroke-width="1.4" />
<path d="M469.10,274.60 L472.70,274.60 L471.60,276.40 L470.20,276.40 Z" fill="#111"/>
<path d="M469.10,313.24 L472.70,313.24 L471.60,311.44 L470.20,311.44 Z" fill="#111"/>
<text transform="translate(471.0,355.3) rotate(-45)" font-size="7.9" text-anchor="end" fill="#222" stroke="#222" stroke-width="0.28" >SUP-HD1</text>
<text transform="translate(499.75,355.3) rotate(-45)" font-size="7.9" text-anchor="end" fill="#222" stroke="#222" stroke-width="0.28" >U-HO1</text>
<rect x="471.10" y="225.40" width="4.50" height="4.50" fill="#b3102e" />
<text x="478.2" y="230.0" font-size="7.2" text-anchor="start" font-weight="normal" fill="#333" stroke="#333" stroke-width="0.12" letter-spacing="0.65">0 h</text>
<rect x="495.20" y="225.40" width="4.50" height="4.50" fill="#304c8a" />
<text x="502.0" y="230.0" font-size="7.2" text-anchor="start" font-weight="normal" fill="#333" stroke="#333" stroke-width="0.12" letter-spacing="0.65">6 h</text>
<text transform="translate(15.4,531.5) rotate(-90)" font-size="8.8" text-anchor="start" fill="#222" stroke="#222" stroke-width="0.2" textLength="115" lengthAdjust="spacingAndGlyphs">Relative PTP1BΔ6 expression</text>
<text transform="translate(27.6,528.8) rotate(-90)" font-size="8.8" text-anchor="start" fill="#222" stroke="#222" stroke-width="0.2" textLength="111" lengthAdjust="spacingAndGlyphs">(% of overall PTP1B mRNA)</text>
<line x1="57.00" y1="413.80" x2="57.00" y2="535.60" stroke="#111" stroke-width="1.5" />
<line x1="54.00" y1="535.00" x2="57.00" y2="535.00" stroke="#111" stroke-width="1.2" />
<text transform="translate(50.9,538.00) scale(0.94,1)" font-size="8.4" text-anchor="end" fill="#2a2a2a" stroke="#2a2a2a" stroke-width="0.22">0.0%</text>
<line x1="54.00" y1="511.40" x2="57.00" y2="511.40" stroke="#111" stroke-width="1.2" />
<text transform="translate(50.9,514.40) scale(0.94,1)" font-size="8.4" text-anchor="end" fill="#2a2a2a" stroke="#2a2a2a" stroke-width="0.22">0.2%</text>
<line x1="54.00" y1="487.80" x2="57.00" y2="487.80" stroke="#111" stroke-width="1.2" />
<text transform="translate(50.9,490.80) scale(0.94,1)" font-size="8.4" text-anchor="end" fill="#2a2a2a" stroke="#2a2a2a" stroke-width="0.22">0.4%</text>
<line x1="54.00" y1="464.20" x2="57.00" y2="464.20" stroke="#111" stroke-width="1.2" />
<text transform="translate(50.9,467.20) scale(0.94,1)" font-size="8.4" text-anchor="end" fill="#2a2a2a" stroke="#2a2a2a" stroke-width="0.22">0.6%</text>
<line x1="54.00" y1="440.60" x2="57.00" y2="440.60" stroke="#111" stroke-width="1.2" />
<text transform="translate(50.9,443.60) scale(0.94,1)" font-size="8.4" text-anchor="end" fill="#2a2a2a" stroke="#2a2a2a" stroke-width="0.22">0.8%</text>
<line x1="54.00" y1="417.00" x2="57.00" y2="417.00" stroke="#111" stroke-width="1.2" />
<text transform="translate(50.9,420.00) scale(0.94,1)" font-size="8.4" text-anchor="end" fill="#2a2a2a" stroke="#2a2a2a" stroke-width="0.22">1.0%</text>
<line x1="56.40" y1="535.00" x2="230.60" y2="535.00" stroke="#111" stroke-width="1.5" />
<line x1="57.00" y1="535.00" x2="57.00" y2="538.00" stroke="#111" stroke-width="1.1" />
<line x1="81.45" y1="535.00" x2="81.45" y2="538.00" stroke="#111" stroke-width="1.1" />
<line x1="105.90" y1="535.00" x2="105.90" y2="538.00" stroke="#111" stroke-width="1.1" />
<line x1="130.35" y1="535.00" x2="130.35" y2="538.00" stroke="#111" stroke-width="1.1" />
<line x1="154.80" y1="535.00" x2="154.80" y2="538.00" stroke="#111" stroke-width="1.1" />
<line x1="179.25" y1="535.00" x2="179.25" y2="538.00" stroke="#111" stroke-width="1.1" />
<line x1="203.70" y1="535.00" x2="203.70" y2="538.00" stroke="#111" stroke-width="1.1" />
<line x1="228.15" y1="535.00" x2="228.15" y2="538.00" stroke="#111" stroke-width="1.1" />
<line x1="57.10" y1="487.20" x2="228.30" y2="487.20" stroke="#1a1a1a" stroke-width="1.4" stroke-dasharray="5.5 3.17"/>
<rect x="65.38" y="527.68" width="7.70" height="7.32" fill="#b3102e" />
<line x1="69.22" y1="520.96" x2="69.22" y2="527.98" stroke="#111" stroke-width="1.4" />
<line x1="69.22" y1="527.98" x2="69.22" y2="534.41" stroke="#6e0818" stroke-width="1.0" />
<path d="M67.42,520.36 L71.02,520.36 L69.92,522.16 L68.52,522.16 Z" fill="#111"/>
<path d="M67.42,535.01 L71.02,535.01 L69.92,533.21 L68.52,533.21 Z" fill="#6e0818"/>
<text transform="translate(73.82499999999999,544.6) rotate(-45)" font-size="7.9" text-anchor="end" fill="#222" stroke="#222" stroke-width="0.28" >U2940</text>
<rect x="89.83" y="530.04" width="7.70" height="4.96" fill="#b3102e" />
<line x1="93.67" y1="526.15" x2="93.67" y2="530.34" stroke="#111" stroke-width="1.4" />
<line x1="93.67" y1="530.34" x2="93.67" y2="533.94" stroke="#6e0818" stroke-width="1.0" />
<path d="M91.88,525.55 L95.47,525.55 L94.38,527.35 L92.97,527.35 Z" fill="#111"/>
<path d="M91.88,534.54 L95.47,534.54 L94.38,532.74 L92.97,532.74 Z" fill="#6e0818"/>
<text transform="translate(98.27499999999999,544.6) rotate(-45)" font-size="7.9" text-anchor="end" fill="#222" stroke="#222" stroke-width="0.28" >MedB1</text>
<rect x="114.28" y="522.26" width="7.70" height="12.74" fill="#b3102e" />
<line x1="118.12" y1="510.81" x2="118.12" y2="522.56" stroke="#111" stroke-width="1.4" />
<line x1="118.12" y1="522.56" x2="118.12" y2="533.70" stroke="#6e0818" stroke-width="1.0" />
<path d="M116.33,510.21 L119.92,510.21 L118.83,512.01 L117.42,512.01 Z" fill="#111"/>
<path d="M116.33,534.30 L119.92,534.30 L118.83,532.50 L117.42,532.50 Z" fill="#6e0818"/>
<text transform="translate(122.725,544.6) rotate(-45)" font-size="7.9" text-anchor="end" fill="#222" stroke="#222" stroke-width="0.28" >K1106</text>
<rect x="138.72" y="516.71" width="7.70" height="18.29" fill="#b3102e" />
<line x1="142.57" y1="504.56" x2="142.57" y2="517.01" stroke="#111" stroke-width="1.4" />
<line x1="142.57" y1="517.01" x2="142.57" y2="528.86" stroke="#6e0818" stroke-width="1.0" />
<path d="M140.77,503.96 L144.38,503.96 L143.27,505.76 L141.88,505.76 Z" fill="#111"/>
<path d="M140.77,529.46 L144.38,529.46 L143.27,527.66 L141.88,527.66 Z" fill="#6e0818"/>
<text transform="translate(147.17499999999998,544.6) rotate(-45)" font-size="7.9" text-anchor="end" fill="#222" stroke="#222" stroke-width="0.28" >HBL1</text>
<rect x="163.17" y="493.70" width="7.70" height="41.30" fill="#b3102e" />
<line x1="167.02" y1="471.87" x2="167.02" y2="494.00" stroke="#111" stroke-width="1.4" />
<line x1="167.02" y1="494.00" x2="167.02" y2="515.65" stroke="#6e0818" stroke-width="1.0" />
<path d="M165.22,471.27 L168.82,471.27 L167.72,473.07 L166.32,473.07 Z" fill="#111"/>
<path d="M165.22,516.25 L168.82,516.25 L167.72,514.45 L166.32,514.45 Z" fill="#6e0818"/>
<text transform="translate(171.62499999999997,544.6) rotate(-45)" font-size="7.9" text-anchor="end" fill="#222" stroke="#222" stroke-width="0.28" >Ocl-ly10</text>
<rect x="187.62" y="524.38" width="7.70" height="10.62" fill="#b3102e" />
<line x1="191.47" y1="516.36" x2="191.47" y2="524.68" stroke="#111" stroke-width="1.4" />
<line x1="191.47" y1="524.68" x2="191.47" y2="532.40" stroke="#6e0818" stroke-width="1.0" />
<path d="M189.67,515.76 L193.28,515.76 L192.17,517.56 L190.78,517.56 Z" fill="#111"/>
<path d="M189.67,533.00 L193.28,533.00 L192.17,531.20 L190.78,531.20 Z" fill="#6e0818"/>
<text transform="translate(196.075,544.6) rotate(-45)" font-size="7.9" text-anchor="end" fill="#222" stroke="#222" stroke-width="0.28" >K422</text>
<rect x="212.07" y="529.57" width="7.70" height="5.43" fill="#b3102e" />
<line x1="215.92" y1="525.44" x2="215.92" y2="529.87" stroke="#111" stroke-width="1.4" />
<line x1="215.92" y1="529.87" x2="215.92" y2="533.70" stroke="#6e0818" stroke-width="1.0" />
<path d="M214.12,524.84 L217.72,524.84 L216.62,526.64 L215.22,526.64 Z" fill="#111"/>
<path d="M214.12,534.30 L217.72,534.30 L216.62,532.50 L215.22,532.50 Z" fill="#6e0818"/>
<text transform="translate(220.52499999999998,544.6) rotate(-45)" font-size="7.9" text-anchor="end" fill="#222" stroke="#222" stroke-width="0.28" >Su-DHL4</text>
<text transform="translate(295.4,532.0) rotate(-90)" font-size="8.8" text-anchor="start" fill="#222" stroke="#222" stroke-width="0.2" textLength="114.5" lengthAdjust="spacingAndGlyphs">Relative PTP1BΔ6 expression</text>
<text transform="translate(307.6,528.8) rotate(-90)" font-size="8.8" text-anchor="start" fill="#222" stroke="#222" stroke-width="0.2" textLength="109.5" lengthAdjust="spacingAndGlyphs">(% of overall PTP1B mRNA)</text>
<line x1="337.30" y1="416.20" x2="337.30" y2="535.60" stroke="#111" stroke-width="1.5" />
<line x1="334.30" y1="535.00" x2="337.30" y2="535.00" stroke="#111" stroke-width="1.2" />
<text transform="translate(330.7,538.00) scale(0.94,1)" font-size="8.4" text-anchor="end" fill="#2a2a2a" stroke="#2a2a2a" stroke-width="0.22">0.0%</text>
<line x1="334.30" y1="511.68" x2="337.30" y2="511.68" stroke="#111" stroke-width="1.2" />
<text transform="translate(330.7,514.68) scale(0.94,1)" font-size="8.4" text-anchor="end" fill="#2a2a2a" stroke="#2a2a2a" stroke-width="0.22">0.2%</text>
<line x1="334.30" y1="488.36" x2="337.30" y2="488.36" stroke="#111" stroke-width="1.2" />
<text transform="translate(330.7,491.36) scale(0.94,1)" font-size="8.4" text-anchor="end" fill="#2a2a2a" stroke="#2a2a2a" stroke-width="0.22">0.4%</text>
<line x1="334.30" y1="465.04" x2="337.30" y2="465.04" stroke="#111" stroke-width="1.2" />
<text transform="translate(330.7,468.04) scale(0.94,1)" font-size="8.4" text-anchor="end" fill="#2a2a2a" stroke="#2a2a2a" stroke-width="0.22">0.6%</text>
<line x1="334.30" y1="441.72" x2="337.30" y2="441.72" stroke="#111" stroke-width="1.2" />
<text transform="translate(330.7,444.72) scale(0.94,1)" font-size="8.4" text-anchor="end" fill="#2a2a2a" stroke="#2a2a2a" stroke-width="0.22">0.8%</text>
<line x1="334.30" y1="418.40" x2="337.30" y2="418.40" stroke="#111" stroke-width="1.2" />
<text transform="translate(330.7,421.40) scale(0.94,1)" font-size="8.4" text-anchor="end" fill="#2a2a2a" stroke="#2a2a2a" stroke-width="0.22">1.0%</text>
<line x1="336.70" y1="535.00" x2="501.20" y2="535.00" stroke="#111" stroke-width="1.5" />
<line x1="337.30" y1="535.00" x2="337.30" y2="538.00" stroke="#111" stroke-width="1.1" />
<line x1="350.75" y1="535.00" x2="350.75" y2="538.00" stroke="#111" stroke-width="1.1" />
<line x1="364.20" y1="535.00" x2="364.20" y2="538.00" stroke="#111" stroke-width="1.1" />
<line x1="377.65" y1="535.00" x2="377.65" y2="538.00" stroke="#111" stroke-width="1.1" />
<line x1="391.10" y1="535.00" x2="391.10" y2="538.00" stroke="#111" stroke-width="1.1" />
<line x1="404.55" y1="535.00" x2="404.55" y2="538.00" stroke="#111" stroke-width="1.1" />
<line x1="418.00" y1="535.00" x2="418.00" y2="538.00" stroke="#111" stroke-width="1.1" />
<line x1="431.45" y1="535.00" x2="431.45" y2="538.00" stroke="#111" stroke-width="1.1" />
<line x1="444.90" y1="535.00" x2="444.90" y2="538.00" stroke="#111" stroke-width="1.1" />
<line x1="458.35" y1="535.00" x2="458.35" y2="538.00" stroke="#111" stroke-width="1.1" />
<line x1="471.80" y1="535.00" x2="471.80" y2="538.00" stroke="#111" stroke-width="1.1" />
<line x1="485.25" y1="535.00" x2="485.25" y2="538.00" stroke="#111" stroke-width="1.1" />
<line x1="498.70" y1="535.00" x2="498.70" y2="538.00" stroke="#111" stroke-width="1.1" />
<line x1="337.00" y1="488.10" x2="495.50" y2="488.10" stroke="#1a1a1a" stroke-width="1.4" stroke-dasharray="5.5 3.2"/>
<rect x="341.83" y="511.68" width="4.40" height="23.32" fill="#a20f2c" />
<line x1="344.03" y1="502.12" x2="344.03" y2="511.98" stroke="#111" stroke-width="1.4" />
<line x1="344.03" y1="511.98" x2="344.03" y2="521.24" stroke="#4a0612" stroke-width="1.4" />
<path d="M342.33,501.52 L345.73,501.52 L344.73,503.32 L343.33,503.32 Z" fill="#111"/>
<path d="M342.33,521.84 L345.73,521.84 L344.73,520.04 L343.33,520.04 Z" fill="#4a0612"/>
<text transform="translate(348.02500000000003,544.6) rotate(-45)" font-size="7.9" text-anchor="end" fill="#222" stroke="#222" stroke-width="0.28" >Tons 98</text>
<rect x="355.28" y="502.12" width="4.40" height="32.88" fill="#a20f2c" />
<line x1="357.48" y1="498.74" x2="357.48" y2="502.42" stroke="#111" stroke-width="1.4" />
<line x1="357.48" y1="502.42" x2="357.48" y2="505.50" stroke="#4a0612" stroke-width="1.4" />
<path d="M355.78,498.14 L359.18,498.14 L358.18,499.94 L356.78,499.94 Z" fill="#111"/>
<path d="M355.78,506.10 L359.18,506.10 L358.18,504.30 L356.78,504.30 Z" fill="#4a0612"/>
<text transform="translate(361.475,544.6) rotate(-45)" font-size="7.9" text-anchor="end" fill="#222" stroke="#222" stroke-width="0.28" >Tons 93</text>
<rect x="368.73" y="521.01" width="4.40" height="13.99" fill="#a20f2c" />
<line x1="370.93" y1="517.51" x2="370.93" y2="521.31" stroke="#111" stroke-width="1.4" />
<line x1="370.93" y1="521.31" x2="370.93" y2="524.51" stroke="#4a0612" stroke-width="1.4" />
<path d="M369.23,516.91 L372.62,516.91 L371.62,518.71 L370.23,518.71 Z" fill="#111"/>
<path d="M369.23,525.11 L372.62,525.11 L371.62,523.31 L370.23,523.31 Z" fill="#4a0612"/>
<text transform="translate(374.925,544.6) rotate(-45)" font-size="7.9" text-anchor="end" fill="#222" stroke="#222" stroke-width="0.28" >Tons 79</text>
<rect x="382.18" y="510.16" width="4.40" height="24.84" fill="#a20f2c" />
<line x1="384.38" y1="505.38" x2="384.38" y2="510.46" stroke="#111" stroke-width="1.4" />
<line x1="384.38" y1="510.46" x2="384.38" y2="514.94" stroke="#4a0612" stroke-width="1.4" />
<path d="M382.68,504.78 L386.07,504.78 L385.07,506.58 L383.68,506.58 Z" fill="#111"/>
<path d="M382.68,515.54 L386.07,515.54 L385.07,513.74 L383.68,513.74 Z" fill="#4a0612"/>
<text transform="translate(388.375,544.6) rotate(-45)" font-size="7.9" text-anchor="end" fill="#222" stroke="#222" stroke-width="0.28" >LCL 141</text>
<rect x="395.62" y="512.73" width="4.40" height="22.27" fill="#a20f2c" />
<line x1="397.82" y1="504.57" x2="397.82" y2="513.03" stroke="#111" stroke-width="1.4" />
<line x1="397.82" y1="513.03" x2="397.82" y2="520.89" stroke="#4a0612" stroke-width="1.4" />
<path d="M396.12,503.97 L399.52,503.97 L398.52,505.77 L397.12,505.77 Z" fill="#111"/>
<path d="M396.12,521.49 L399.52,521.49 L398.52,519.69 L397.12,519.69 Z" fill="#4a0612"/>
<text transform="translate(401.825,544.6) rotate(-45)" font-size="7.9" text-anchor="end" fill="#222" stroke="#222" stroke-width="0.28" >PB20</text>
<rect x="409.07" y="494.42" width="4.40" height="40.58" fill="#a20f2c" />
<line x1="411.27" y1="486.73" x2="411.27" y2="494.72" stroke="#111" stroke-width="1.4" />
<line x1="411.27" y1="494.72" x2="411.27" y2="502.12" stroke="#4a0612" stroke-width="1.4" />
<path d="M409.57,486.13 L412.97,486.13 L411.97,487.93 L410.57,487.93 Z" fill="#111"/>
<path d="M409.57,502.72 L412.97,502.72 L411.97,500.92 L410.57,500.92 Z" fill="#4a0612"/>
<text transform="translate(415.275,544.6) rotate(-45)" font-size="7.9" text-anchor="end" fill="#222" stroke="#222" stroke-width="0.28" >INA</text>
<rect x="422.53" y="529.17" width="4.40" height="5.83" fill="#a20f2c" />
<text transform="translate(428.725,544.6) rotate(-45)" font-size="7.9" text-anchor="end" fill="#222" stroke="#222" stroke-width="0.28" >EHEB</text>
<rect x="435.98" y="523.81" width="4.40" height="11.19" fill="#a20f2c" />
<text transform="translate(442.175,544.6) rotate(-45)" font-size="7.9" text-anchor="end" fill="#222" stroke="#222" stroke-width="0.28" >Dani</text>
<rect x="462.88" y="505.15" width="4.40" height="29.85" fill="#a20f2c" />
<line x1="465.07" y1="500.37" x2="465.07" y2="505.45" stroke="#111" stroke-width="1.4" />
<line x1="465.07" y1="505.45" x2="465.07" y2="509.93" stroke="#4a0612" stroke-width="1.4" />
<path d="M463.38,499.77 L466.77,499.77 L465.77,501.57 L464.38,501.57 Z" fill="#111"/>
<path d="M463.38,510.53 L466.77,510.53 L465.77,508.73 L464.38,508.73 Z" fill="#4a0612"/>
<text transform="translate(469.075,544.6) rotate(-45)" font-size="7.9" text-anchor="end" fill="#222" stroke="#222" stroke-width="0.28" >P B cells</text>
<rect x="476.32" y="501.19" width="4.40" height="33.81" fill="#a20f2c" />
<line x1="478.52" y1="490.23" x2="478.52" y2="501.49" stroke="#111" stroke-width="1.4" />
<line x1="478.52" y1="501.49" x2="478.52" y2="512.15" stroke="#4a0612" stroke-width="1.4" />
<path d="M476.82,489.63 L480.22,489.63 L479.22,491.43 L477.82,491.43 Z" fill="#111"/>
<path d="M476.82,512.75 L480.22,512.75 L479.22,510.95 L477.82,510.95 Z" fill="#4a0612"/>
<text transform="translate(482.525,544.6) rotate(-45)" font-size="7.9" text-anchor="end" fill="#222" stroke="#222" stroke-width="0.28" >GC B cells</text>
<rect x="489.78" y="524.39" width="4.40" height="10.61" fill="#a20f2c" />
<line x1="491.98" y1="520.42" x2="491.98" y2="524.69" stroke="#111" stroke-width="1.4" />
<line x1="491.98" y1="524.69" x2="491.98" y2="528.35" stroke="#4a0612" stroke-width="1.4" />
<path d="M490.28,519.82 L493.68,519.82 L492.68,521.62 L491.28,521.62 Z" fill="#111"/>
<path d="M490.28,528.95 L493.68,528.95 L492.68,527.15 L491.28,527.15 Z" fill="#4a0612"/>
<text transform="translate(495.975,544.6) rotate(-45)" font-size="7.9" text-anchor="end" fill="#222" stroke="#222" stroke-width="0.28" >MZ Bcells</text>
</svg>
</body></html>
